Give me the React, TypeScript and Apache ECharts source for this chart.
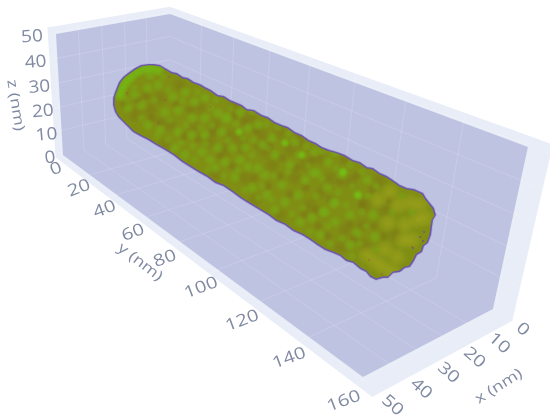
import React, { useEffect, useRef } from "react";
import * as echarts from "echarts";

const xTicks = [0, 10, 20, 30, 40, 50];
const yTicks = [0, 20, 40, 60, 80, 100, 120, 140, 160];
const zTicks = [0, 10, 20, 30, 40, 50];
const xRange = [0, 50];
const yRange = [0, 160];
const zRange = [0, 50];
const xWall = [-1, 52.5];
const yWall = [-1.6, 165.6];
const zWall = [-1, 52.5];
const axisTitles = ["x (nm)", "y (nm)", "z (nm)"];

// Rod silhouette as seen in the picture plane
const rodOutline = [[148,64],[154,64],[160,65],[165,68],[172,72],[177,73],[183,77],[188,78],[194,82],[200,84],[205,87],[211,90],[218,95],[224,96],[230,100],[235,102],[242,105],[247,109],[254,110],[262,115],[268,117],[275,122],[282,125],[288,127],[295,132],[302,135],[309,140],[316,143],[322,147],[330,150],[337,152],[345,155],[353,160],[360,162],[367,167],[373,168],[380,173],[387,176],[393,180],[400,185],[407,188],[414,189],[423,193],[426,198],[430,203],[434,208],[436,215],[433,220],[432,227],[431,235],[428,243],[424,246],[422,252],[417,255],[414,261],[410,267],[405,268],[400,272],[393,273],[388,278],[383,278],[376,280],[370,277],[366,272],[360,269],[353,263],[346,261],[340,256],[333,253],[325,250],[317,245],[310,240],[302,235],[293,231],[285,225],[276,221],[268,215],[258,209],[248,203],[240,198],[232,192],[223,186],[215,183],[207,177],[198,172],[190,167],[182,162],[173,155],[165,150],[156,145],[148,140],[140,136],[133,132],[128,127],[123,122],[118,117],[115,112],[113,105],[113,98],[115,92],[117,87],[119,82],[123,77],[128,73],[135,68],[141,65]];

const greenSpots = [[148,88],[158,85],[173,97],[185,92],[195,102],[205,98],[165,112],[178,110],[192,118],[205,118],[218,113],[142,105],[128,108],[148,125],[178,132],[192,135],[205,135],[202,152],[218,148],[222,132],[228,118],[175,148],[185,155],[215,168],[248,128],[232,148],[258,168],[265,175],[248,167],[282,185],[225,162],[235,177],[252,188],[267,195],[298,195],[285,202],[335,203],[325,212],[313,173],[328,162],[272,138],[258,125],[225,118],[295,142],[315,152],[335,152],[342,175],[275,155],[245,148],[312,218],[343,172],[358,195],[333,203],[323,212],[375,237],[357,233],[350,245],[335,222],[373,215],[327,188],[317,173],[367,180],[320,235],[240,112],[262,145],[290,165],[305,180],[350,215],[300,222],[275,210],[240,160],[210,160],[160,130],[135,95],[150,75]];
const fineGreenSpots = [[126,100],[134,88],[141,118],[155,100],[163,77],[168,90],[170,120],[182,101],[186,125],[198,92],[200,128],[211,108],[212,125],[157,136],[168,140],[181,143],[193,146],[206,144],[195,160],[208,170],[224,176],[228,140],[236,124],[216,100],[231,108],[243,138],[252,112],[254,140],[266,124],[278,128],[288,134],[268,148],[252,155],[238,170],[262,186],[274,176],[288,172],[298,155],[306,146],[322,152],[308,166],[322,178],[336,168],[350,165],[362,172],[352,186],[338,192],[316,196],[303,208],[292,214],[272,200],[258,198],[245,190],[310,232],[328,226],[342,238],[330,244],[362,212],[346,205],[368,196],[376,186],[366,226],[352,256],[376,250],[360,244],[392,212],[402,196],[412,212]];
const brightSpots = [[239,132],[285,143],[302,155],[358,195],[343,172]];
const rimSpots = [[120,95],[122,88],[126,82],[131,77],[137,72],[144,69],[151,68],[158,70]];
const yellowSpots = [[390,192],[388,223],[403,240],[397,257],[383,267],[367,255],[417,220],[410,203],[398,205],[420,205],[412,240],[378,200],[375,262],[392,272],[405,225],[425,218],[385,250]];
const brownSpots = [[135,115],[160,98],[180,85],[200,108],[150,110],[170,125],[195,128],[215,125],[165,145],[210,142],[230,135],[235,105],[250,118],[225,150],[245,178],[262,135],[280,132],[272,165],[290,150],[305,165],[295,178],[255,200],[280,215],[310,205],[322,192],[350,182],[345,230],[365,205],[385,210],[362,225],[340,248],[365,245],[320,158],[265,152],[215,175],[240,140],[300,142],[330,178],[380,180],[395,235]];
const fineBrownSpots = [[124,104],[138,100],[146,96],[152,118],[176,104],[190,110],[160,122],[184,136],[198,139],[212,133],[220,156],[232,166],[242,150],[258,146],[234,116],[244,122],[256,130],[270,146],[282,158],[296,168],[280,176],[268,186],[254,178],[290,194],[306,188],[316,210],[330,200],[340,182],[356,176],[372,190],[362,204],[350,224],[328,236],[318,226],[304,214],[354,238],[374,226],[384,236],[390,200],[300,134],[312,160],[326,146],[344,160]];
const redSpecks = [[127,93],[165,100],[210,107],[158,123],[169,77],[382,274],[412,247],[369,260]];
const purpleSpecks = [[420,237],[423,241],[424,232],[413,248]];

const GRID_LINE = "rgba(255,255,255,0.14)";
const TICK_COLOR = "#808aa2";
const TEXT_FONT = "'Open Sans', sans-serif";

// Camera calibration: unit-box coordinates to the picture plane
const project = (x: number, y: number, z: number): number[] => {
  const u = 1 - x / 50;
  const v = y / 160;
  const w = z / 50;
  const d = 1 + 0.0796 * u - 0.3795 * v - 0.0667 * w;
  return [
    (63 + 119.9 * u + 162.2 * v - 10.73 * w) / d,
    (155 - 17.56 * u + 78.9 * v - 123.27 * w) / d,
  ];
};

const quad = (p: number[][]) => p.map(([x, y, z]) => project(x, y, z));

const wallCorners = (xv: number[], yv: number[], zv: number[]) => {
  const [xa, xb] = xv;
  const [ya, yb] = yv;
  const [za, zb] = zv;
  return quad([
    [xb, ya, zb],
    [xa, ya, zb],
    [xa, yb, zb],
    [xa, yb, za],
    [xb, yb, za],
    [xb, ya, za],
  ]);
};

const buildGridLines = () => {
  const [xa, xb] = xWall;
  const [ya, yb] = yWall;
  const [za, zb] = zWall;
  const lines: number[][][] = [];
  xTicks.filter((t) => t > 0).forEach((x) => {
    lines.push([[x, ya, za], [x, yb, za]]);
    lines.push([[x, ya, za], [x, ya, zb]]);
  });
  yTicks.filter((t) => t > 0).forEach((y) => {
    lines.push([[xa, y, za], [xb, y, za]]);
    lines.push([[xa, y, za], [xa, y, zb]]);
  });
  zTicks.filter((t) => t > 0).forEach((z) => {
    lines.push([[xa, ya, z], [xb, ya, z]]);
    lines.push([[xa, ya, z], [xa, yb, z]]);
  });
  return lines;
};

const inset = (p: number[], amount: number) => {
  const [ax, ay, bx, by] = [170, 110, 385, 232];
  const dx = bx - ax;
  const dy = by - ay;
  const t = Math.max(0, Math.min(1, ((p[0] - ax) * dx + (p[1] - ay) * dy) / (dx * dx + dy * dy)));
  const cx = ax + t * dx;
  const cy = ay + t * dy;
  const l = Math.hypot(p[0] - cx, p[1] - cy) || 1;
  return [p[0] - ((p[0] - cx) / l) * amount, p[1] - ((p[1] - cy) / l) * amount];
};

const soft = (rgb: string, a: number) => ({
  type: "radial",
  x: 0.5,
  y: 0.5,
  r: 0.5,
  colorStops: [
    { offset: 0, color: `rgba(${rgb},${a})` },
    { offset: 0.5, color: `rgba(${rgb},${a * 0.6})` },
    { offset: 1, color: `rgba(${rgb},0)` },
  ],
});

const toCoord = (api: any, pts: number[][]) => pts.map((p) => api.coord(p));

const App = () => {
  const ref = useRef<HTMLDivElement>(null);

  useEffect(() => {
    document.body.style.margin = "0";
    const chart = echarts.init(ref.current!, null, { renderer: "svg" });

    const gridLines = buildGridLines();

    const tickLabels = [
      ...xTicks.map((t) => {
        const f = t / 50;
        const p = project(t, yWall[1], zWall[0]);
        return { text: String(t), p: [p[0] + 14, p[1] + 6 + 5 * f], rot: -0.72, size: 16.5, sx: 1.22 };
      }),
      ...yTicks.map((t) => {
        const f = t / 160;
        const p = project(xWall[1], t, zWall[0]);
        return { text: String(t), p: [p[0] - 2 - 10 * f, p[1] + 8.5 + 7 * f], rot: 0.36, size: 16.5, sx: 1.22 };
      }),
      ...zTicks.map((t) => {
        const f = t / 50;
        const p = project(xWall[1], yWall[0], t);
        return { text: String(t), p: [p[0] - 5.5 - 10.5 * f, p[1] + 1], rot: 0.08, size: 17, sx: 1.12 };
      }),
    ];
    const titleLabels = [
      { text: axisTitles[0], p: [498, 385], rot: 0.56, size: 14.5, sx: 1.25 },
      { text: axisTitles[1], p: [141, 261], rot: -0.66, size: 14.5, sx: 1.25 },
      { text: axisTitles[2], p: [17, 105], rot: -1.41, size: 14.5, sx: 1.25 },
    ];
    const allLabels = [...tickLabels, ...titleLabels];

    chart.setOption({
      animation: false,
      backgroundColor: "#ffffff",
      grid: { left: 0, right: 0, top: 0, bottom: 0 },
      xAxis: { type: "value", min: 0, max: 550, show: false },
      yAxis: { type: "value", min: 0, max: 419, inverse: true, show: false },
      tooltip: { show: false },
      series: [
        {
          type: "custom",
          name: "walls",
          silent: true,
          data: [0],
          renderItem: (_: any, api: any) => ({
            type: "group",
            children: [
              {
                type: "polygon",
                shape: { points: toCoord(api, wallCorners(xWall, yWall, zWall)) },
                style: { fill: "#e8edf7" },
              },
              {
                type: "polygon",
                shape: { points: toCoord(api, wallCorners(xRange, yRange, zRange)) },
                style: { fill: "#bfc3e2" },
              },
            ],
          }),
        },
        {
          type: "custom",
          name: "grid",
          silent: true,
          data: gridLines.map((_, i) => i),
          renderItem: (params: any, api: any) => {
            const l = gridLines[params.dataIndex];
            const [a, b] = toCoord(api, quad(l));
            return {
              type: "line",
              shape: { x1: a[0], y1: a[1], x2: b[0], y2: b[1] },
              style: { stroke: GRID_LINE, lineWidth: 1 },
            };
          },
        },
        {
          type: "custom",
          name: "rod",
          silent: true,
          data: [0],
          renderItem: (_: any, api: any) => {
            const outer = toCoord(api, rodOutline);
            const inner = outer.map((p) => inset(p, 1.5));
            const spot = (p: number[], r: number, rgb: string, a: number) => {
              const c = api.coord(p);
              return { type: "circle", shape: { cx: c[0], cy: c[1], r }, style: { fill: soft(rgb, a) } };
            };
            const dot = (p: number[], fill: string) => {
              const c = api.coord(p);
              return { type: "circle", shape: { cx: c[0], cy: c[1], r: 0.8 }, style: { fill } };
            };
            return {
              type: "group",
              children: [
                {
                  type: "polygon",
                  shape: { points: outer },
                  style: { fill: "rgba(88,62,150,0.8)", stroke: "rgba(120,100,190,0.22)", lineWidth: 1.5, lineJoin: "round" },
                },
                {
                  type: "group",
                  clipPath: { type: "polygon", shape: { points: inner } },
                  children: [
                    {
                      type: "polygon",
                      shape: { points: inner },
                      style: { fill: "#808f14" },
                    },
                    ...brownSpots.map((p) => spot(p, 9, "124,108,22", 0.42)),
                    ...fineBrownSpots.map((p) => spot(p, 6, "122,104,22", 0.45)),
                    ...yellowSpots.map((p) => spot(p, 10, "160,164,28", 0.65)),
                    ...greenSpots.map((p) => spot(p, 6.5, "118,172,20", 0.72)),
                    ...fineGreenSpots.map((p) => spot(p, 5, "120,166,20", 0.6)),
                    ...rimSpots.map((p) => spot(p, 7, "112,192,18", 0.8)),
                    ...brightSpots.map((p) => spot(p, 5, "112,200,18", 0.8)),
                    ...redSpecks.map((p) => dot(p, "rgba(165,75,70,0.6)")),
                    ...purpleSpecks.map((p) => dot(p, "rgba(105,70,165,0.85)")),
                  ],
                },
              ],
            };
          },
        },
        {
          type: "custom",
          name: "labels",
          silent: true,
          data: allLabels.map((_, i) => i),
          renderItem: (params: any, api: any) => {
            const l = allLabels[params.dataIndex];
            const c = api.coord(l.p);
            return {
              type: "text",
              x: c[0],
              y: c[1],
              rotation: l.rot,
              scaleX: l.sx,
              style: {
                text: l.text,
                fill: TICK_COLOR,
                font: `${l.size}px ${TEXT_FONT}`,
                align: "center",
                verticalAlign: "middle",
              },
            };
          },
        },
      ],
    });

    return () => chart.dispose();
  }, []);

  return (
    <div
      ref={ref}
      style={{ position: "absolute", left: 0, top: 0, width: 550, height: 419, filter: "blur(0.6px)" }}
    />
  );
};

export default App;
